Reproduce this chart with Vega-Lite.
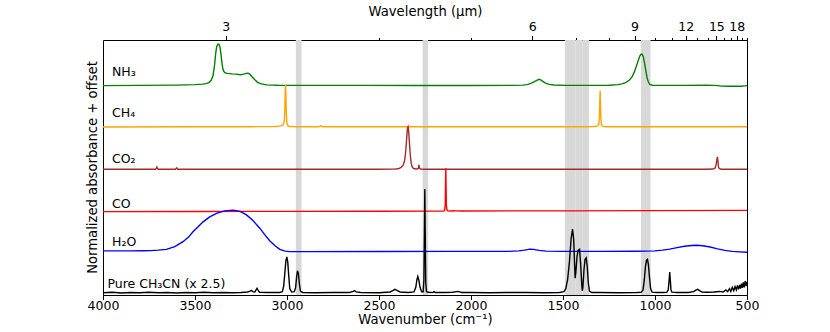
{
  "$schema": "https://vega.github.io/schema/vega-lite/v6.json",
  "width": 644,
  "height": 255,
  "autosize": {"type": "none"},
  "padding": {"left": 103, "top": 40, "right": 83, "bottom": 37},
  "title": {"text": "Normalized absorbance + offset", "orient": "left", "anchor": "middle", "fontSize": 13.2, "fontWeight": "normal", "font": "DejaVu Sans", "color": "black", "offset": -13},
  "config": {
    "font": "DejaVu Sans",
    "view": {"stroke": "black", "strokeWidth": 1},
    "axis": {"grid": false, "domain": false, "labelFontSize": 12.5, "titleFontSize": 13.2, "labelColor": "black", "titleColor": "black", "titleFontWeight": "normal", "tickColor": "black", "labelFont": "DejaVu Sans", "titleFont": "DejaVu Sans"}
  },
  "datasets": {
    "spectra": [
      {"s":"NH3","wn":4000,"v":8.21},{"s":"NH3","wn":3800,"v":8.22},{"s":"NH3","wn":3600,"v":8.23},{"s":"NH3","wn":3500,"v":8.25},{"s":"NH3","wn":3460,"v":8.27},{"s":"NH3","wn":3440,"v":8.29},{"s":"NH3","wn":3425,"v":8.33},{"s":"NH3","wn":3412,"v":8.42},{"s":"NH3","wn":3402,"v":8.6},{"s":"NH3","wn":3394,"v":9.0},{"s":"NH3","wn":3388,"v":9.45},{"s":"NH3","wn":3382,"v":9.75},{"s":"NH3","wn":3376,"v":9.84},{"s":"NH3","wn":3370,"v":9.84},{"s":"NH3","wn":3364,"v":9.72},{"s":"NH3","wn":3358,"v":9.4},{"s":"NH3","wn":3352,"v":9.0},{"s":"NH3","wn":3346,"v":8.8},{"s":"NH3","wn":3338,"v":8.72},{"s":"NH3","wn":3325,"v":8.69},{"s":"NH3","wn":3300,"v":8.67},{"s":"NH3","wn":3275,"v":8.66},{"s":"NH3","wn":3255,"v":8.64},{"s":"NH3","wn":3235,"v":8.66},{"s":"NH3","wn":3222,"v":8.69},{"s":"NH3","wn":3212,"v":8.7},{"s":"NH3","wn":3202,"v":8.66},{"s":"NH3","wn":3190,"v":8.56},{"s":"NH3","wn":3175,"v":8.44},{"s":"NH3","wn":3160,"v":8.34},{"s":"NH3","wn":3140,"v":8.28},{"s":"NH3","wn":3110,"v":8.24},{"s":"NH3","wn":3050,"v":8.225},{"s":"NH3","wn":2900,"v":8.22},{"s":"NH3","wn":2600,"v":8.22},{"s":"NH3","wn":2300,"v":8.215},{"s":"NH3","wn":2000,"v":8.215},{"s":"NH3","wn":1760,"v":8.22},{"s":"NH3","wn":1720,"v":8.23},{"s":"NH3","wn":1695,"v":8.25},{"s":"NH3","wn":1675,"v":8.3},{"s":"NH3","wn":1655,"v":8.37},{"s":"NH3","wn":1640,"v":8.43},{"s":"NH3","wn":1631,"v":8.46},{"s":"NH3","wn":1622,"v":8.44},{"s":"NH3","wn":1610,"v":8.38},{"s":"NH3","wn":1595,"v":8.31},{"s":"NH3","wn":1575,"v":8.26},{"s":"NH3","wn":1550,"v":8.235},{"s":"NH3","wn":1480,"v":8.22},{"s":"NH3","wn":1350,"v":8.22},{"s":"NH3","wn":1250,"v":8.225},{"s":"NH3","wn":1200,"v":8.25},{"s":"NH3","wn":1180,"v":8.28},{"s":"NH3","wn":1160,"v":8.33},{"s":"NH3","wn":1140,"v":8.42},{"s":"NH3","wn":1125,"v":8.55},{"s":"NH3","wn":1112,"v":8.75},{"s":"NH3","wn":1100,"v":9.0},{"s":"NH3","wn":1090,"v":9.22},{"s":"NH3","wn":1082,"v":9.38},{"s":"NH3","wn":1075,"v":9.45},{"s":"NH3","wn":1069,"v":9.44},{"s":"NH3","wn":1063,"v":9.33},{"s":"NH3","wn":1057,"v":9.1},{"s":"NH3","wn":1050,"v":8.8},{"s":"NH3","wn":1043,"v":8.52},{"s":"NH3","wn":1036,"v":8.35},{"s":"NH3","wn":1028,"v":8.26},{"s":"NH3","wn":1015,"v":8.225},{"s":"NH3","wn":980,"v":8.22},{"s":"NH3","wn":850,"v":8.22},{"s":"NH3","wn":720,"v":8.225},{"s":"NH3","wn":680,"v":8.22},{"s":"NH3","wn":660,"v":8.21},{"s":"NH3","wn":640,"v":8.19},{"s":"NH3","wn":600,"v":8.185},{"s":"NH3","wn":560,"v":8.19},{"s":"NH3","wn":530,"v":8.185},{"s":"NH3","wn":515,"v":8.2},{"s":"NH3","wn":500,"v":8.21},
      {"s":"CH4","wn":4000,"v":6.59},{"s":"CH4","wn":3500,"v":6.6},{"s":"CH4","wn":3200,"v":6.6},{"s":"CH4","wn":3060,"v":6.61},{"s":"CH4","wn":3035,"v":6.63},{"s":"CH4","wn":3022,"v":6.67},{"s":"CH4","wn":3015,"v":6.8},{"s":"CH4","wn":3012,"v":7.2},{"s":"CH4","wn":3010,"v":7.9},{"s":"CH4","wn":3008,"v":8.23},{"s":"CH4","wn":3006,"v":7.9},{"s":"CH4","wn":3004,"v":7.2},{"s":"CH4","wn":3001,"v":6.75},{"s":"CH4","wn":2996,"v":6.64},{"s":"CH4","wn":2985,"v":6.61},{"s":"CH4","wn":2900,"v":6.6},{"s":"CH4","wn":2830,"v":6.6},{"s":"CH4","wn":2820,"v":6.62},{"s":"CH4","wn":2815,"v":6.64},{"s":"CH4","wn":2810,"v":6.61},{"s":"CH4","wn":2790,"v":6.6},{"s":"CH4","wn":2500,"v":6.6},{"s":"CH4","wn":2000,"v":6.6},{"s":"CH4","wn":1600,"v":6.6},{"s":"CH4","wn":1400,"v":6.6},{"s":"CH4","wn":1330,"v":6.61},{"s":"CH4","wn":1312,"v":6.63},{"s":"CH4","wn":1305,"v":6.7},{"s":"CH4","wn":1302,"v":7.0},{"s":"CH4","wn":1300,"v":7.6},{"s":"CH4","wn":1298,"v":8.01},{"s":"CH4","wn":1296,"v":7.5},{"s":"CH4","wn":1294,"v":6.9},{"s":"CH4","wn":1291,"v":6.68},{"s":"CH4","wn":1286,"v":6.62},{"s":"CH4","wn":1270,"v":6.6},{"s":"CH4","wn":1000,"v":6.6},{"s":"CH4","wn":700,"v":6.6},{"s":"CH4","wn":500,"v":6.6},
      {"s":"CO2","wn":4000,"v":4.93},{"s":"CO2","wn":3800,"v":4.93},{"s":"CO2","wn":3714,"v":4.93},{"s":"CO2","wn":3710,"v":4.98},{"s":"CO2","wn":3707,"v":5.02},{"s":"CO2","wn":3704,"v":4.96},{"s":"CO2","wn":3700,"v":4.93},{"s":"CO2","wn":3606,"v":4.93},{"s":"CO2","wn":3602,"v":4.97},{"s":"CO2","wn":3599,"v":4.99},{"s":"CO2","wn":3595,"v":4.94},{"s":"CO2","wn":3590,"v":4.93},{"s":"CO2","wn":3000,"v":4.93},{"s":"CO2","wn":2500,"v":4.93},{"s":"CO2","wn":2420,"v":4.935},{"s":"CO2","wn":2395,"v":4.95},{"s":"CO2","wn":2380,"v":5.0},{"s":"CO2","wn":2368,"v":5.1},{"s":"CO2","wn":2360,"v":5.3},{"s":"CO2","wn":2354,"v":5.7},{"s":"CO2","wn":2349,"v":6.2},{"s":"CO2","wn":2345,"v":6.55},{"s":"CO2","wn":2342,"v":6.6},{"s":"CO2","wn":2339,"v":6.45},{"s":"CO2","wn":2335,"v":6.0},{"s":"CO2","wn":2330,"v":5.5},{"s":"CO2","wn":2325,"v":5.15},{"s":"CO2","wn":2318,"v":5.0},{"s":"CO2","wn":2308,"v":4.95},{"s":"CO2","wn":2292,"v":4.94},{"s":"CO2","wn":2286,"v":4.97},{"s":"CO2","wn":2283,"v":5.1},{"s":"CO2","wn":2280,"v":4.98},{"s":"CO2","wn":2275,"v":4.94},{"s":"CO2","wn":2250,"v":4.93},{"s":"CO2","wn":2000,"v":4.93},{"s":"CO2","wn":1500,"v":4.93},{"s":"CO2","wn":1000,"v":4.93},{"s":"CO2","wn":720,"v":4.93},{"s":"CO2","wn":685,"v":4.94},{"s":"CO2","wn":674,"v":4.97},{"s":"CO2","wn":668,"v":5.1},{"s":"CO2","wn":664,"v":5.3},{"s":"CO2","wn":661,"v":5.42},{"s":"CO2","wn":658,"v":5.25},{"s":"CO2","wn":655,"v":5.02},{"s":"CO2","wn":650,"v":4.95},{"s":"CO2","wn":640,"v":4.93},{"s":"CO2","wn":500,"v":4.93},
      {"s":"CO","wn":4000,"v":3.27},{"s":"CO","wn":3500,"v":3.275},{"s":"CO","wn":3000,"v":3.28},{"s":"CO","wn":2500,"v":3.285},{"s":"CO","wn":2200,"v":3.29},{"s":"CO","wn":2150,"v":3.29},{"s":"CO","wn":2143,"v":3.31},{"s":"CO","wn":2140,"v":3.55},{"s":"CO","wn":2138.5,"v":4.3},{"s":"CO","wn":2137,"v":4.97},{"s":"CO","wn":2135.5,"v":4.3},{"s":"CO","wn":2134,"v":3.55},{"s":"CO","wn":2131,"v":3.34},{"s":"CO","wn":2126,"v":3.3},{"s":"CO","wn":2100,"v":3.295},{"s":"CO","wn":2092,"v":3.31},{"s":"CO","wn":2089,"v":3.3},{"s":"CO","wn":2050,"v":3.295},{"s":"CO","wn":1500,"v":3.3},{"s":"CO","wn":1000,"v":3.31},{"s":"CO","wn":500,"v":3.32},
      {"s":"H2O","wn":4000,"v":1.73},{"s":"H2O","wn":3850,"v":1.73},{"s":"H2O","wn":3780,"v":1.735},{"s":"H2O","wn":3740,"v":1.74},{"s":"H2O","wn":3700,"v":1.76},{"s":"H2O","wn":3655,"v":1.79},{"s":"H2O","wn":3610,"v":1.9},{"s":"H2O","wn":3565,"v":2.09},{"s":"H2O","wn":3535,"v":2.27},{"s":"H2O","wn":3511,"v":2.48},{"s":"H2O","wn":3483,"v":2.68},{"s":"H2O","wn":3456,"v":2.87},{"s":"H2O","wn":3420,"v":3.06},{"s":"H2O","wn":3383,"v":3.2},{"s":"H2O","wn":3340,"v":3.3},{"s":"H2O","wn":3293,"v":3.33},{"s":"H2O","wn":3255,"v":3.28},{"s":"H2O","wn":3220,"v":3.14},{"s":"H2O","wn":3185,"v":2.92},{"s":"H2O","wn":3148,"v":2.62},{"s":"H2O","wn":3120,"v":2.36},{"s":"H2O","wn":3094,"v":2.13},{"s":"H2O","wn":3065,"v":1.93},{"s":"H2O","wn":3039,"v":1.79},{"s":"H2O","wn":3010,"v":1.72},{"s":"H2O","wn":2985,"v":1.7},{"s":"H2O","wn":2900,"v":1.7},{"s":"H2O","wn":2500,"v":1.705},{"s":"H2O","wn":2100,"v":1.71},{"s":"H2O","wn":1800,"v":1.71},{"s":"H2O","wn":1740,"v":1.73},{"s":"H2O","wn":1710,"v":1.76},{"s":"H2O","wn":1680,"v":1.8},{"s":"H2O","wn":1660,"v":1.79},{"s":"H2O","wn":1630,"v":1.75},{"s":"H2O","wn":1590,"v":1.72},{"s":"H2O","wn":1500,"v":1.71},{"s":"H2O","wn":1300,"v":1.71},{"s":"H2O","wn":1100,"v":1.715},{"s":"H2O","wn":1000,"v":1.73},{"s":"H2O","wn":960,"v":1.76},{"s":"H2O","wn":920,"v":1.8},{"s":"H2O","wn":880,"v":1.86},{"s":"H2O","wn":840,"v":1.91},{"s":"H2O","wn":800,"v":1.94},{"s":"H2O","wn":774,"v":1.95},{"s":"H2O","wn":740,"v":1.93},{"s":"H2O","wn":700,"v":1.88},{"s":"H2O","wn":660,"v":1.81},{"s":"H2O","wn":620,"v":1.75},{"s":"H2O","wn":580,"v":1.71},{"s":"H2O","wn":540,"v":1.69},{"s":"H2O","wn":500,"v":1.675},
      {"s":"CH3CN","wn":4000,"v":0.09},{"s":"CH3CN","wn":3950,"v":0.11},{"s":"CH3CN","wn":3900,"v":0.08},{"s":"CH3CN","wn":3850,"v":0.1},{"s":"CH3CN","wn":3800,"v":0.09},{"s":"CH3CN","wn":3750,"v":0.11},{"s":"CH3CN","wn":3700,"v":0.09},{"s":"CH3CN","wn":3650,"v":0.1},{"s":"CH3CN","wn":3600,"v":0.08},{"s":"CH3CN","wn":3550,"v":0.1},{"s":"CH3CN","wn":3500,"v":0.09},{"s":"CH3CN","wn":3450,"v":0.11},{"s":"CH3CN","wn":3400,"v":0.09},{"s":"CH3CN","wn":3350,"v":0.1},{"s":"CH3CN","wn":3300,"v":0.09},{"s":"CH3CN","wn":3250,"v":0.1},{"s":"CH3CN","wn":3215,"v":0.12},{"s":"CH3CN","wn":3200,"v":0.15},{"s":"CH3CN","wn":3193,"v":0.18},{"s":"CH3CN","wn":3186,"v":0.13},{"s":"CH3CN","wn":3175,"v":0.12},{"s":"CH3CN","wn":3168,"v":0.2},{"s":"CH3CN","wn":3163,"v":0.26},{"s":"CH3CN","wn":3158,"v":0.2},{"s":"CH3CN","wn":3150,"v":0.11},{"s":"CH3CN","wn":3100,"v":0.1},{"s":"CH3CN","wn":3040,"v":0.1},{"s":"CH3CN","wn":3025,"v":0.13},{"s":"CH3CN","wn":3018,"v":0.35},{"s":"CH3CN","wn":3012,"v":0.85},{"s":"CH3CN","wn":3006,"v":1.35},{"s":"CH3CN","wn":3001,"v":1.49},{"s":"CH3CN","wn":2996,"v":1.3},{"s":"CH3CN","wn":2990,"v":0.7},{"s":"CH3CN","wn":2985,"v":0.25},{"s":"CH3CN","wn":2975,"v":0.12},{"s":"CH3CN","wn":2960,"v":0.13},{"s":"CH3CN","wn":2953,"v":0.3},{"s":"CH3CN","wn":2948,"v":0.7},{"s":"CH3CN","wn":2943,"v":0.95},{"s":"CH3CN","wn":2938,"v":0.85},{"s":"CH3CN","wn":2933,"v":0.45},{"s":"CH3CN","wn":2927,"v":0.15},{"s":"CH3CN","wn":2915,"v":0.1},{"s":"CH3CN","wn":2850,"v":0.09},{"s":"CH3CN","wn":2750,"v":0.1},{"s":"CH3CN","wn":2660,"v":0.1},{"s":"CH3CN","wn":2640,"v":0.14},{"s":"CH3CN","wn":2632,"v":0.17},{"s":"CH3CN","wn":2624,"v":0.12},{"s":"CH3CN","wn":2600,"v":0.1},{"s":"CH3CN","wn":2500,"v":0.09},{"s":"CH3CN","wn":2440,"v":0.12},{"s":"CH3CN","wn":2425,"v":0.17},{"s":"CH3CN","wn":2414,"v":0.22},{"s":"CH3CN","wn":2400,"v":0.17},{"s":"CH3CN","wn":2385,"v":0.12},{"s":"CH3CN","wn":2340,"v":0.1},{"s":"CH3CN","wn":2310,"v":0.12},{"s":"CH3CN","wn":2300,"v":0.3},{"s":"CH3CN","wn":2294,"v":0.6},{"s":"CH3CN","wn":2289,"v":0.73},{"s":"CH3CN","wn":2284,"v":0.6},{"s":"CH3CN","wn":2277,"v":0.3},{"s":"CH3CN","wn":2268,"v":0.13},{"s":"CH3CN","wn":2260,"v":0.13},{"s":"CH3CN","wn":2256,"v":0.6},{"s":"CH3CN","wn":2253,"v":2.6},{"s":"CH3CN","wn":2251,"v":4.16},{"s":"CH3CN","wn":2249,"v":2.6},{"s":"CH3CN","wn":2246,"v":0.5},{"s":"CH3CN","wn":2242,"v":0.13},{"s":"CH3CN","wn":2225,"v":0.1},{"s":"CH3CN","wn":2205,"v":0.11},{"s":"CH3CN","wn":2200,"v":0.13},{"s":"CH3CN","wn":2195,"v":0.1},{"s":"CH3CN","wn":2150,"v":0.1},{"s":"CH3CN","wn":2100,"v":0.11},{"s":"CH3CN","wn":2072,"v":0.14},{"s":"CH3CN","wn":2050,"v":0.1},{"s":"CH3CN","wn":2000,"v":0.1},{"s":"CH3CN","wn":1900,"v":0.09},{"s":"CH3CN","wn":1800,"v":0.1},{"s":"CH3CN","wn":1700,"v":0.1},{"s":"CH3CN","wn":1600,"v":0.09},{"s":"CH3CN","wn":1520,"v":0.1},{"s":"CH3CN","wn":1495,"v":0.13},{"s":"CH3CN","wn":1485,"v":0.25},{"s":"CH3CN","wn":1475,"v":0.6},{"s":"CH3CN","wn":1465,"v":1.3},{"s":"CH3CN","wn":1456,"v":2.2},{"s":"CH3CN","wn":1448,"v":2.58},{"s":"CH3CN","wn":1442,"v":2.2},{"s":"CH3CN","wn":1437,"v":1.2},{"s":"CH3CN","wn":1434,"v":0.66},{"s":"CH3CN","wn":1430,"v":0.9},{"s":"CH3CN","wn":1424,"v":1.5},{"s":"CH3CN","wn":1418,"v":1.75},{"s":"CH3CN","wn":1410,"v":1.79},{"s":"CH3CN","wn":1404,"v":1.2},{"s":"CH3CN","wn":1398,"v":0.4},{"s":"CH3CN","wn":1395,"v":0.16},{"s":"CH3CN","wn":1392,"v":0.3},{"s":"CH3CN","wn":1386,"v":1.0},{"s":"CH3CN","wn":1380,"v":1.4},{"s":"CH3CN","wn":1374,"v":1.46},{"s":"CH3CN","wn":1368,"v":1.1},{"s":"CH3CN","wn":1362,"v":0.45},{"s":"CH3CN","wn":1356,"v":0.15},{"s":"CH3CN","wn":1345,"v":0.1},{"s":"CH3CN","wn":1300,"v":0.1},{"s":"CH3CN","wn":1200,"v":0.09},{"s":"CH3CN","wn":1100,"v":0.1},{"s":"CH3CN","wn":1075,"v":0.11},{"s":"CH3CN","wn":1065,"v":0.2},{"s":"CH3CN","wn":1058,"v":0.6},{"s":"CH3CN","wn":1052,"v":1.1},{"s":"CH3CN","wn":1046,"v":1.37},{"s":"CH3CN","wn":1041,"v":1.4},{"s":"CH3CN","wn":1036,"v":1.2},{"s":"CH3CN","wn":1030,"v":0.7},{"s":"CH3CN","wn":1024,"v":0.25},{"s":"CH3CN","wn":1016,"v":0.11},{"s":"CH3CN","wn":990,"v":0.1},{"s":"CH3CN","wn":950,"v":0.1},{"s":"CH3CN","wn":935,"v":0.11},{"s":"CH3CN","wn":928,"v":0.2},{"s":"CH3CN","wn":923,"v":0.6},{"s":"CH3CN","wn":920,"v":0.9},{"s":"CH3CN","wn":917,"v":0.6},{"s":"CH3CN","wn":913,"v":0.2},{"s":"CH3CN","wn":908,"v":0.11},{"s":"CH3CN","wn":880,"v":0.1},{"s":"CH3CN","wn":820,"v":0.1},{"s":"CH3CN","wn":790,"v":0.13},{"s":"CH3CN","wn":778,"v":0.19},{"s":"CH3CN","wn":768,"v":0.22},{"s":"CH3CN","wn":758,"v":0.17},{"s":"CH3CN","wn":745,"v":0.12},{"s":"CH3CN","wn":720,"v":0.11},{"s":"CH3CN","wn":680,"v":0.12},{"s":"CH3CN","wn":650,"v":0.14},{"s":"CH3CN","wn":630,"v":0.12},{"s":"CH3CN","wn":615,"v":0.2},{"s":"CH3CN","wn":605,"v":0.13},{"s":"CH3CN","wn":595,"v":0.25},{"s":"CH3CN","wn":588,"v":0.14},{"s":"CH3CN","wn":580,"v":0.3},{"s":"CH3CN","wn":572,"v":0.17},{"s":"CH3CN","wn":565,"v":0.33},{"s":"CH3CN","wn":558,"v":0.2},{"s":"CH3CN","wn":552,"v":0.38},{"s":"CH3CN","wn":546,"v":0.22},{"s":"CH3CN","wn":540,"v":0.4},{"s":"CH3CN","wn":535,"v":0.25},{"s":"CH3CN","wn":530,"v":0.45},{"s":"CH3CN","wn":525,"v":0.28},{"s":"CH3CN","wn":520,"v":0.5},{"s":"CH3CN","wn":515,"v":0.3},{"s":"CH3CN","wn":510,"v":0.55},{"s":"CH3CN","wn":505,"v":0.35},{"s":"CH3CN","wn":500,"v":0.52}
    ],
    "bands": [
      {"b0": 2952, "b1": 2921}, {"b0": 2263, "b1": 2233}, {"b0": 1490, "b1": 1431}, {"b0": 1431, "b1": 1395}, {"b0": 1395, "b1": 1359}, {"b0": 1076, "b1": 1024}
    ],
    "labels": [
      {"label": "NH₃", "wn": 3951, "v": 8.588},
      {"label": "CH₄", "wn": 3951, "v": 6.98},
      {"label": "CO₂", "wn": 3951, "v": 5.165},
      {"label": "CO", "wn": 3951, "v": 3.412},
      {"label": "H₂O", "wn": 3951, "v": 1.933},
      {"label": "Pure CH₃CN (x 2.5)", "wn": 3976, "v": 0.263}
    ]
  },
  "resolve": {"scale": {"x": "independent"}},
  "layer": [
    {
      "layer": [
        {
          "data": {"name": "bands"},
          "mark": {"type": "rect", "color": "#d8d8d8"},
          "encoding": {
            "x": {"field": "b0", "type": "quantitative", "scale": {"domain": [500, 4000], "reverse": true, "nice": false, "zero": false},
              "axis": {"orient": "bottom", "values": [4000, 3500, 3000, 2500, 2000, 1500, 1000, 500], "format": "d", "title": "Wavenumber (cm⁻¹)", "tickSize": 4.5, "labelPadding": 0, "titlePadding": 1.5, "labelOverlap": false, "labelFlush": false, "labelBound": false}},
            "x2": {"field": "b1"},
            "y": {"datum": 0, "type": "quantitative", "axis": null},
            "y2": {"datum": 10}
          }
        },
        {
          "data": {"name": "spectra"},
          "mark": {"type": "line", "strokeWidth": 1.4, "clip": true},
          "encoding": {
            "x": {"field": "wn", "type": "quantitative"},
            "y": {"field": "v", "type": "quantitative", "scale": {"domain": [0, 10], "nice": false, "zero": false}, "axis": null},
            "color": {"field": "s", "type": "nominal", "legend": null,
              "scale": {"domain": ["NH3", "CH4", "CO2", "CO", "H2O", "CH3CN"], "range": ["#008000", "#FFA500", "#A52A2A", "#FF0000", "#0000FF", "#000000"]}}
          }
        }
      ]
    },
    {
      "data": {"name": "labels"},
      "mark": {"type": "text", "align": "left", "baseline": "alphabetic", "fontSize": 12.5, "font": "DejaVu Sans", "color": "black"},
      "encoding": {
        "x": {"field": "wn", "type": "quantitative", "scale": {"domain": [500, 4000], "reverse": true, "nice": false, "zero": false},
          "axis": {"orient": "top", "title": "Wavelength (μm)", "values": [3333.3333, 2500, 2000, 1666.6667, 1428.5714, 1250, 1111.1111, 1000, 909.0909, 833.3333, 769.2308, 714.2857, 666.6667, 625, 588.2353, 555.5556, 526.3158, 500],
            "labelExpr": "indexof([3,6,9,12,15,18], round(10000/datum.value)) >= 0 ? format(round(10000/datum.value), 'd') : ''",
            "tickSize": {"condition": {"test": "indexof([3,6,9,12,15,18], round(10000/datum.value)) >= 0", "value": 4.5}, "value": 2.5},
            "labelPadding": 2, "titlePadding": 2.5, "labelOverlap": false, "labelFlush": false, "labelBound": false}},
        "y": {"field": "v", "type": "quantitative", "scale": {"domain": [0, 10], "nice": false, "zero": false}, "axis": null},
        "text": {"field": "label"}
      }
    }
  ]
}
